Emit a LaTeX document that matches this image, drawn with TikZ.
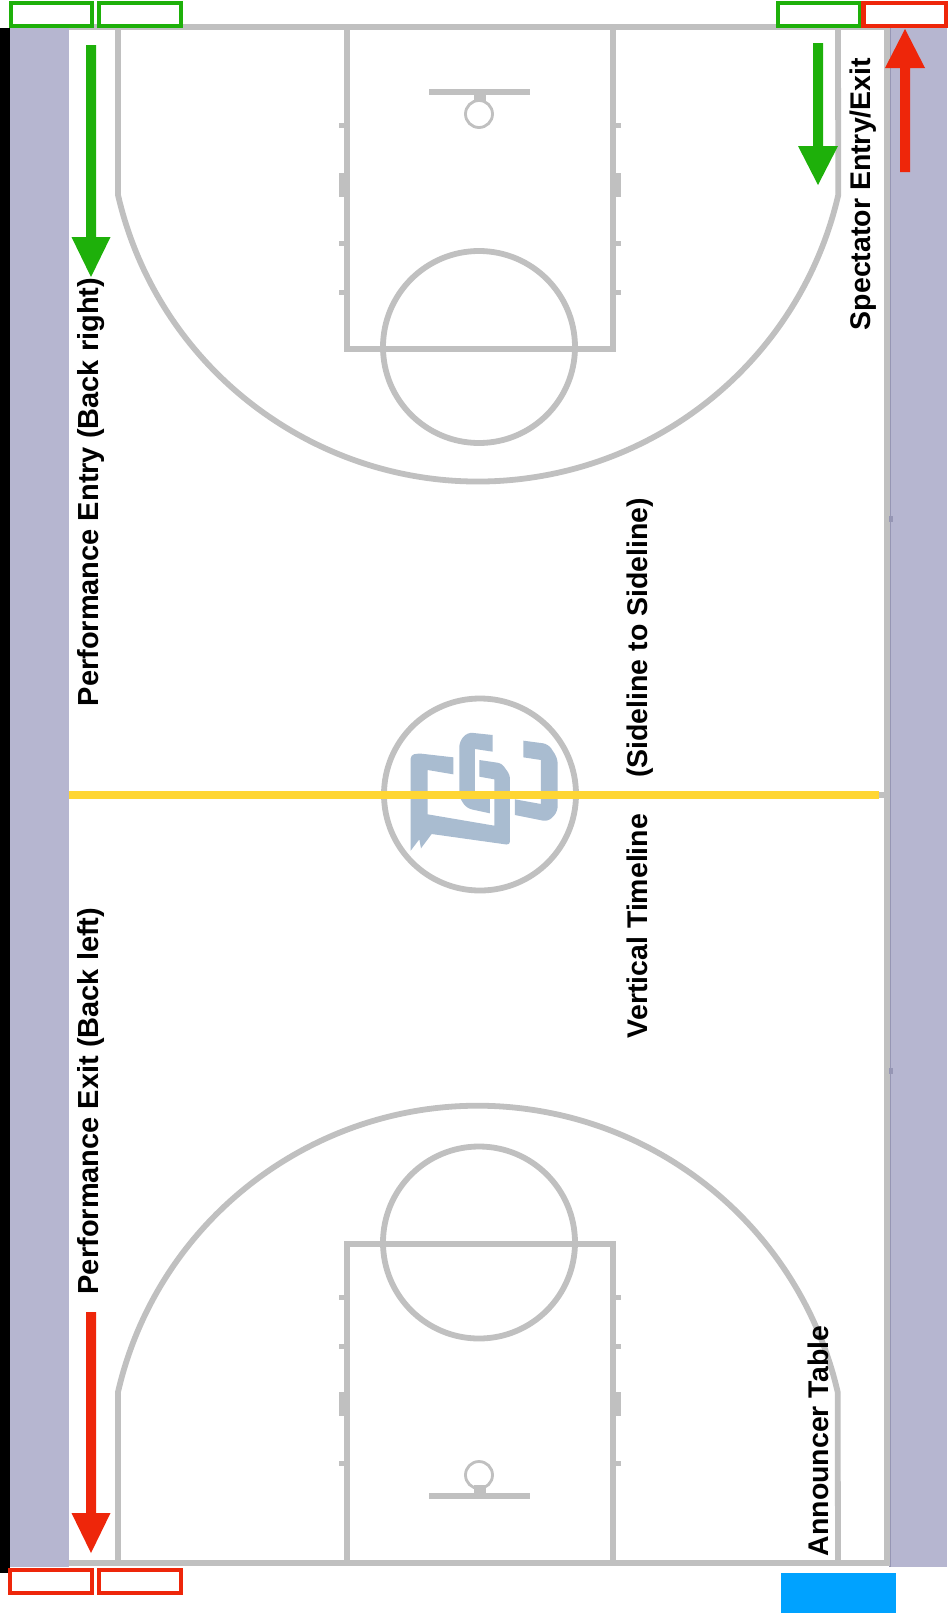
\documentclass[tikz,border=0pt]{standalone}
\usepackage{fontspec}
\setmainfont{Liberation Sans}
\definecolor{courtgray}{RGB}{192,192,192}
\definecolor{aislelav}{RGB}{182,182,208}
\definecolor{aisleedge}{RGB}{150,150,180}
\definecolor{entrygreen}{RGB}{30,176,10}
\definecolor{exitred}{RGB}{238,38,10}
\definecolor{tableblue}{RGB}{0,162,255}
\definecolor{timeyellow}{RGB}{255,214,51}
\definecolor{logoblue}{RGB}{169,188,208}
\tikzset{
  courtline/.style={draw=courtgray,line width=3.3pt},
  thinline/.style={draw=courtgray,line width=1.6pt},
  doorbox/.style={draw=#1,line width=2.3pt,fill=white,inner sep=0pt,minimum height=0.46cm},
  flowarrow/.style={draw=none,fill=#1},
  cue/.style={font=\fontsize{16.2}{18}\selectfont\bfseries,rotate=90,inner sep=0pt},
  bigcue/.style={cue,font=\fontsize{16.5}{18}\selectfont\bfseries}
}
\begin{document}
\begin{tikzpicture}[x=0.02cm,y=-0.02cm]
  \useasboundingbox (0,0) rectangle (947,1616);
  \fill[white] (0,0) rectangle (947,1616);

  % side aisles
  \fill[black] (0,28) rectangle (10,1573);
  \fill[aislelav] (10,28) rectangle (69,1567);
  \fill[aislelav] (890,28) rectangle (947,1567);
  \draw[aisleedge,line width=1pt] (890,28) -- (890,1567);

  % court outline and halfway line
  \draw[courtline] (69,27) -- (887,27) -- (887,1563) -- (69,1563);
  \draw[courtline] (69,795) -- (887,795);
  \draw[courtline] (480,794.5) circle (96);
  \fill[aisleedge] (889,516) rectangle (893,522);
  \fill[aisleedge] (889,1068) rectangle (893,1074);

  % back end
  \draw[courtline] (118,27) -- (118,195) arc[start angle=167,end angle=13,radius=369.6] -- (838,27);
  \draw[courtline] (347,27) -- (347,349) -- (613,349) -- (613,27);
  \draw[courtline] (479,347) circle (96);
  \draw[courtline] (429,92) -- (530,92);
  \fill[courtgray] (474,92) rectangle (486,102);
  \draw[thinline] (479,114) circle (13.5);
  \foreach \y in {125,243,292} {
    \fill[courtgray] (339,\y-2.5) rectangle (347,\y+2.5);
    \fill[courtgray] (613,\y-2.5) rectangle (621,\y+2.5);
  }
  \fill[courtgray] (339,173) rectangle (347,197);
  \fill[courtgray] (613,173) rectangle (621,197);

  % front end
  \draw[courtline] (118,1563) -- (118,1392) arc[start angle=-167,end angle=-13,radius=369.3] -- (838,1563);
  \draw[courtline] (347,1563) -- (347,1244) -- (613,1244) -- (613,1563);
  \draw[courtline] (479,1242.5) circle (96);
  \draw[courtline] (429,1496) -- (530,1496);
  \fill[courtgray] (474,1485) rectangle (486,1496);
  \draw[thinline] (479,1475) circle (13.5);
  \foreach \y in {1297,1346,1463} {
    \fill[courtgray] (339,\y-2.5) rectangle (347,\y+2.5);
    \fill[courtgray] (613,\y-2.5) rectangle (621,\y+2.5);
  }
  \fill[courtgray] (339,1392) rectangle (347,1416);
  \fill[courtgray] (613,1392) rectangle (621,1416);

  % logo on the centre circle
  \begin{scope}[shift={(360,680)},x=0.02cm/3,y=-0.02cm/3]
    \fill[logoblue,rounded corners=2pt] (358,240) -- (425,250) -- (450,285) -- (450,495) [sharp corners] -- (215,462) -- (183,505) -- (178,478) -- (152,512) -- (152,240) [rounded corners=2pt] -- (152,225) -- (175,220) [sharp corners] -- (280,232) -- (280,283) -- (203,270) -- (203,403) -- (403,437) -- (403,298) -- (358,290) -- cycle;
    \fill[logoblue,rounded corners=3pt] (398,165) -- (322,157) -- (298,185) -- (298,352) -- (320,385) [sharp corners] -- (390,400) -- (390,355) -- (345,345) -- (345,207) -- (398,215) -- cycle;
    \fill[logoblue,rounded corners=3pt] (490,182) -- (565,192) -- (593,235) -- (593,395) -- (565,425) [sharp corners] -- (465,405) -- (465,358) -- (543,372) -- (543,240) -- (490,232) -- cycle;
  \end{scope}

  % timeline
  \draw[timeyellow,line width=4.9pt] (69,795) -- (879,795);

  % doors
  \node[doorbox=entrygreen,minimum width=1.62cm] (doorgreena) at (51.5,14.5) {};
  \node[doorbox=entrygreen,minimum width=1.64cm] (doorgreenb) at (140,14.5) {};
  \node[doorbox=entrygreen,minimum width=1.64cm] (doorgreenc) at (819,14.5) {};
  \node[doorbox=exitred,minimum width=1.66cm] (doorreda) at (905,14.5) {};
  \node[doorbox=exitred,minimum width=1.64cm] (doorredb) at (51,1581.5) {};
  \node[doorbox=exitred,minimum width=1.64cm] (doorredc) at (140,1581.5) {};
  \fill[tableblue] (781,1573) rectangle (896,1613);

  % arrows
  \fill[flowarrow=entrygreen] (86,45) -- (96,45) -- (96,237) -- (110.5,237) -- (91,277) -- (71.5,237) -- (86,237) -- cycle;
  \fill[flowarrow=entrygreen] (813,43) -- (823,43) -- (823,146) -- (838,146) -- (818,185) -- (798,146) -- (813,146) -- cycle;
  \fill[flowarrow=exitred] (900,172) -- (910,172) -- (910,68) -- (925,68) -- (905,29) -- (885,68) -- (900,68) -- cycle;
  \fill[flowarrow=exitred] (86,1312) -- (96,1312) -- (96,1513) -- (110.5,1513) -- (91,1553) -- (71.5,1513) -- (86,1513) -- cycle;

  % labels
  \node[bigcue] (perfentry) at (91,492) {Performance Entry (Back right)};
  \node[bigcue] (perfexit) at (91,1101) {Performance Exit (Back left)};
  \node[cue] (specdoor) at (863,194) {Spectator Entry/Exit};
  \node[cue] (announcer) at (818,1441) {Announcer Table};
  \node[cue] (timeline) at (640,768) {Vertical Timeline\hspace{0.72cm}(Sideline to Sideline)};
\end{tikzpicture}
\end{document}
